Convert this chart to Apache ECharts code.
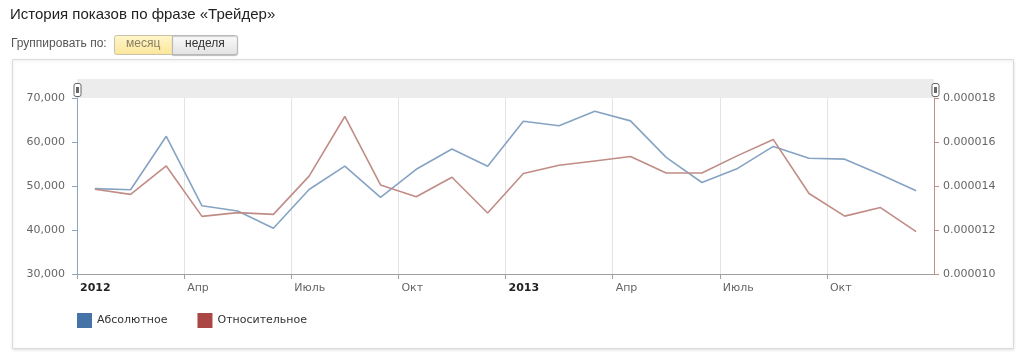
<!DOCTYPE html>
<html>
<head>
<meta charset="utf-8">
<script src="https://cdn.jsdelivr.net/npm/echarts@6/dist/echarts.min.js"></script>
<style>
html,body{margin:0;padding:0;background:#fff;}
#chart{width:1024px;height:357px;}
</style>
</head>
<body>
<div id="chart"></div>
<script>
var months = ['2012-01','2012-02','2012-03','2012-04','2012-05','2012-06','2012-07','2012-08','2012-09','2012-10','2012-11','2012-12',
              '2013-01','2013-02','2013-03','2013-04','2013-05','2013-06','2013-07','2013-08','2013-09','2013-10','2013-11','2013-12'];
var absoluteValues = [49400, 49150, 61300, 45500, 44300, 40400, 49200, 54500, 47400, 53800, 58400, 54500,
                      64700, 63700, 67000, 64800, 56500, 50800, 54000, 59000, 56300, 56100, 52600, 48900];
var relativeValues = [0.00001385, 0.00001362, 0.00001491, 0.00001262, 0.00001279, 0.00001271, 0.00001445, 0.00001716, 0.00001405, 0.00001351, 0.00001440, 0.00001277,
                      0.00001457, 0.00001494, 0.00001514, 0.00001534, 0.00001459, 0.00001459, 0.00001538, 0.00001611, 0.00001366, 0.00001263, 0.00001302, 0.00001193];
var tickLabels = ['2012','Апр','Июль','Окт','2013','Апр','Июль','Окт'];
var seriesNames = ['Абсолютное','Относительное'];

var chart = echarts.init(document.getElementById('chart'), null, {renderer:'canvas'});

function toPoints(vals){
  return vals.map(function(v,i){ return [i + 0.5, v]; });
}

function handle(x){
  return {
    type:'group', children:[
      {type:'rect', shape:{x:x-3.5, y:83.5, width:7, height:13, r:2}, style:{fill:'#fff', stroke:'#666', lineWidth:1}},
      {type:'rect', shape:{x:x-1.5, y:87, width:3, height:6}, style:{fill:'#666'}}
    ]
  };
}

var option = {
  animation:false,
  backgroundColor:'#fff',
  textStyle:{fontFamily:'DejaVu Sans'},
  graphic:[
    {type:'rect', z:-10, shape:{x:12.5, y:59.5, width:1001, height:289}, style:{fill:'#fff', stroke:'#dcdcdc', lineWidth:1, shadowBlur:3, shadowColor:'rgba(0,0,0,0.12)', shadowOffsetY:1}},
    {type:'text', left:10, top:7, style:{text:'История показов по фразе «Трейдер»', font:'15px "Liberation Sans", Arial, sans-serif', fill:'#222'}},
    {type:'text', left:11, top:38, style:{text:'Группировать по:', font:'12px "Liberation Sans", Arial, sans-serif', fill:'#555'}},
    {type:'rect', shape:{x:114.5, y:35.5, width:58, height:19, r:[2,0,0,2]}, style:{fill:new echarts.graphic.LinearGradient(0,0,0,1,[{offset:0,color:'#fff6cc'},{offset:1,color:'#fbe69a'}]), stroke:'#c9c2a6', lineWidth:1}},
    {type:'text', left:126, top:38, style:{text:'месяц', font:'12px "Liberation Sans", Arial, sans-serif', fill:'#8a8060'}},
    {type:'rect', shape:{x:172.5, y:35.5, width:65, height:19, r:[0,2,2,0]}, style:{fill:new echarts.graphic.LinearGradient(0,0,0,1,[{offset:0,color:'#fbfbfb'},{offset:1,color:'#e2e2e2'}]), stroke:'#b9b9b9', lineWidth:1, shadowBlur:1, shadowColor:'rgba(0,0,0,0.2)', shadowOffsetY:1}},
    {type:'text', left:185, top:38, style:{text:'неделя', font:'12px "Liberation Sans", Arial, sans-serif', fill:'#333'}},
    {type:'rect', z:-5, shape:{x:77, y:79, width:857, height:19}, style:{fill:'#ececec'}},
    handle(77.5),
    handle(935.5)
  ],
  grid:{left:77, right:90, top:98, bottom:83},
  legend:{
    left:72, top:308, icon:'rect', itemWidth:15, itemHeight:15, itemGap:30,
    textStyle:{fontSize:11, color:'#333', fontFamily:'DejaVu Sans'},
    data:[
      {name:seriesNames[0], itemStyle:{color:'#4572a7'}},
      {name:seriesNames[1], itemStyle:{color:'#aa4643'}}
    ]
  },
  xAxis:{
    type:'value', min:0, max:24, interval:3,
    axisLine:{show:true, lineStyle:{color:'#a0a0a0', width:1}},
    axisTick:{show:true, length:5, lineStyle:{color:'#a0a0a0'}},
    splitLine:{show:true, lineStyle:{color:'#e4e4e4', width:1}},
    axisLabel:{
      align:'left', margin:9, padding:[0,0,0,3], fontSize:11, color:'#666', fontFamily:'DejaVu Sans',
      showMaxLabel:false,
      formatter:function(v){
        var idx = Math.round(v/3);
        var t = tickLabels[idx];
        if (t === undefined) return '';
        return (idx % 4 === 0) ? '{b|' + t + '}' : t;
      },
      rich:{b:{fontWeight:'bold', color:'#222', fontSize:11, fontFamily:'DejaVu Sans'}}
    }
  },
  yAxis:[
    {
      type:'value', min:30000, max:70000, interval:10000, position:'left',
      axisLine:{show:true, lineStyle:{color:'#8aa6c4', width:1}},
      axisTick:{show:true, length:5, lineStyle:{color:'#8aa6c4'}},
      splitLine:{show:false},
      axisLabel:{margin:12, fontSize:11, color:'#666', fontFamily:'DejaVu Sans',
        formatter:function(v){ return v.toLocaleString('en-US'); }}
    },
    {
      type:'value', min:0.00001, max:0.000018, interval:0.000002, position:'right',
      axisLine:{show:true, lineStyle:{color:'#bf8f8a', width:1}},
      axisTick:{show:true, length:5, lineStyle:{color:'#bf8f8a'}},
      splitLine:{show:false},
      axisLabel:{margin:9, fontSize:11, color:'#666', fontFamily:'DejaVu Sans',
        formatter:function(v){ return v.toFixed(6); }}
    }
  ],
  series:[
    {name:seriesNames[0], type:'line', yAxisIndex:0, data:toPoints(absoluteValues), symbol:'none',
     lineStyle:{color:'#86a3c3', width:1.6}, itemStyle:{color:'#4572a7'}},
    {name:seriesNames[1], type:'line', yAxisIndex:1, data:toPoints(relativeValues), symbol:'none',
     lineStyle:{color:'#c08c86', width:1.6}, itemStyle:{color:'#aa4643'}}
  ]
};
chart.setOption(option);
</script>
</body>
</html>
